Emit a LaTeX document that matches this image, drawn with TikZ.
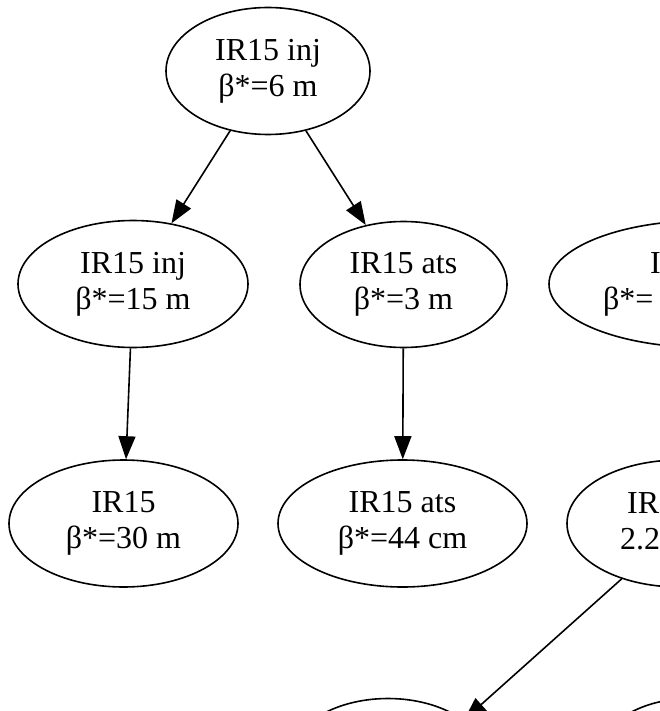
\documentclass[tikz,border=0pt]{standalone}
\usepackage{fontspec}
\setmainfont{Liberation Serif}
\usetikzlibrary{arrows.meta,shapes.geometric}
\begin{document}
\begin{tikzpicture}[x=1pt,y=-1pt,
  gnode/.style={draw, ellipse, line width=1.6pt, inner sep=0pt, align=center,
                font=\fontsize{32}{36}\selectfont},
  edge/.style={line width=1.6pt, -{Triangle[length=23pt,width=17pt]}},
  frag/.style={anchor=base west, inner sep=0pt, font=\fontsize{32}{36}\selectfont}]
\useasboundingbox (0,0) rectangle (660,711);
\clip (0,0) rectangle (660,711);
% row 1
\node[gnode, minimum width=204pt, minimum height=127pt] (top) at (268,71) {IR15 inj\\β*=6 m};
% row 2
\node[gnode, minimum width=230pt, minimum height=127pt] (inj15) at (133,284) {IR15 inj\\β*=15 m};
\node[gnode, minimum width=207pt, minimum height=126pt] (ats3) at (403.5,284.5) {IR15 ats\\β*=3 m};
\node[gnode, minimum width=312pt, minimum height=127pt] (r2) at (705,284) {};
\node[frag] (r2a) at (650,273.5) {I};
\node[frag] (r2b) at (603,309.5) {β*=};
% row 3
\node[gnode, minimum width=229pt, minimum height=127pt] (m30) at (123.5,523.5) {IR15\\β*=30 m};
\node[gnode, minimum width=249pt, minimum height=127pt] (cm44) at (402.5,523.5) {IR15 ats\\β*=44 cm};
\node[gnode, minimum width=224pt, minimum height=127pt] (r3) at (679,523.5) {};
\node[frag] (r3a) at (627,513) {IR};
\node[frag] (r3b) at (620,549) {2.2};
% row 4
\node[gnode, minimum width=200pt, minimum height=127pt] (r4) at (388,762) {};
\node[gnode, minimum width=190pt, minimum height=127pt] (r4b) at (690,762) {};
% edges
\draw[edge] (top) -- (inj15);
\draw[edge] (top) -- (ats3);
\draw[edge] (inj15) -- (m30);
\draw[edge] (ats3) -- (cm44);
\draw[edge] (r3.224) -- (r4.29);
\end{tikzpicture}
\end{document}
